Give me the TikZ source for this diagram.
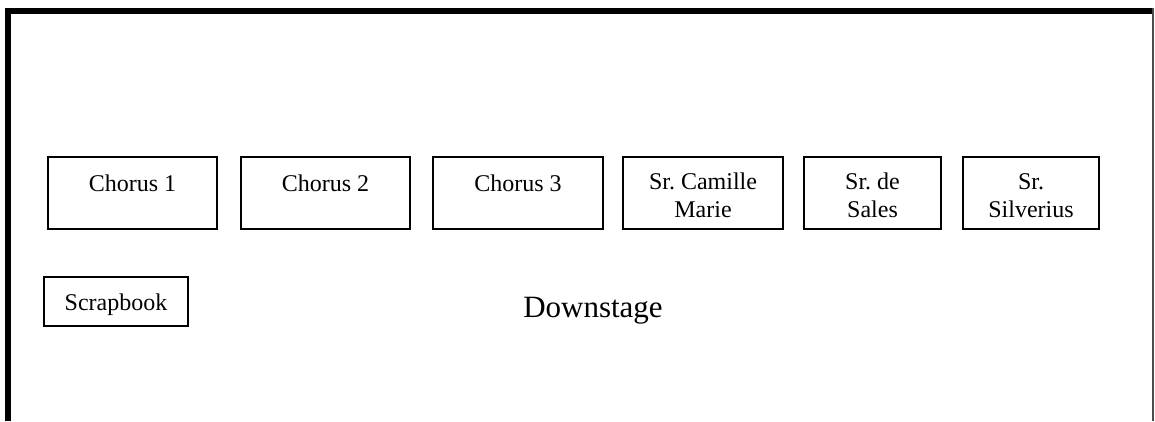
\documentclass[tikz,border=0pt]{standalone}
\usepackage{fontspec}
\setmainfont{Liberation Serif}
\frenchspacing
\begin{document}
\begin{tikzpicture}[x=1pt,y=-1pt,
  frame/.style={line width=6pt},
  thinframe/.style={line width=1.5pt, draw=black!70},
  box/.style={draw, line width=1.6pt, rectangle, inner sep=0pt, minimum height=72pt},
  lbl/.style={anchor=base, align=center, inner sep=0pt, font=\fontsize{24}{28}\selectfont},
  big/.style={anchor=base, inner sep=0pt, font=\fontsize{31}{36}\selectfont}]
\useasboundingbox (0,0) rectangle (1155,421);
% stage frame
\coordinate (fbl) at (8,421);
\coordinate (ftl) at (8,11);
\coordinate (ftr) at (1152,11);
\coordinate (frt) at (1153,8);
\coordinate (frb) at (1153,421);
\draw[frame] (fbl) -- (ftl) -- (ftr);
\draw[thinframe] (frt) -- (frb);
% boxes
\node[box, minimum width=169pt] (c1) at (132.5,193) {};
\node[box, minimum width=169pt] (c2) at (325.5,193) {};
\node[box, minimum width=170pt] (c3) at (518,193) {};
\node[box, minimum width=160pt] (cm) at (703,193) {};
\node[box, minimum width=137pt] (ds) at (872.5,193) {};
\node[box, minimum width=136pt] (sv) at (1031,193) {};
\node[box, minimum width=144pt, minimum height=49pt] (sb) at (116,301.5) {};
% labels (anchor=base is the last line's baseline)
\node[lbl] (c1t) at ([yshift=-35pt]c1.north) {Chorus 1};
\node[lbl] (c2t) at ([yshift=-35pt]c2.north) {Chorus 2};
\node[lbl] (c3t) at ([yshift=-35pt]c3.north) {Chorus 3};
\node[lbl] (cmt) at ([yshift=-61pt]cm.north) {Sr. Camille\\Marie};
\node[lbl] (dst) at ([yshift=-61pt]ds.north) {Sr. de\\Sales};
\node[lbl] (svt) at ([yshift=-61pt]sv.north) {Sr.\\Silverius};
\node[lbl] (sbt) at ([yshift=-34pt]sb.north) {Scrapbook};
\node[big] (down) at (593,317) {Downstage};
\end{tikzpicture}
\end{document}
